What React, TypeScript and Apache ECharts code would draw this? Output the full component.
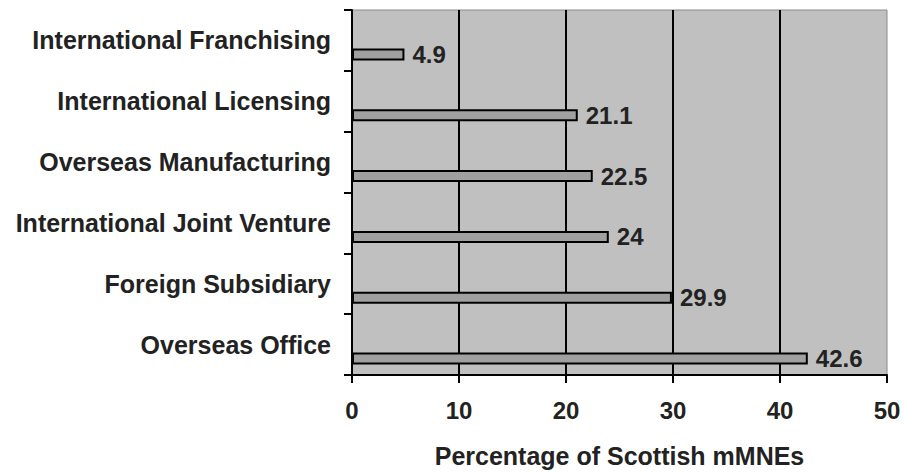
import React, { useEffect, useRef } from "react";
import * as echarts from "echarts";

const categories = [
  "Overseas Office",
  "Foreign Subsidiary",
  "International Joint Venture",
  "Overseas Manufacturing",
  "International Licensing",
  "International Franchising",
];
const values = [42.6, 29.9, 24, 22.5, 21.1, 4.9];
const spacer = categories.map(() => "-");
const xTicks = { min: 0, max: 50, interval: 10 };
const axisTitle = "Percentage of Scottish mMNEs";

const FONT = "'Liberation Sans', Arial, Helvetica, sans-serif";

export default function App() {
  const ref = useRef<HTMLDivElement>(null);
  useEffect(() => {
    if (!ref.current) return;
    const chart = echarts.init(ref.current, undefined, { renderer: "svg" });
    chart.setOption({
      animation: false,
      backgroundColor: "#ffffff",
      textStyle: { fontFamily: FONT },
      grid: {
        left: 352,
        right: 18,
        top: 10,
        bottom: 95,
        show: true,
        backgroundColor: "#c0c0c0",
        borderColor: "#8a8a8a",
        borderWidth: 1,
      },
      xAxis: {
        type: "value",
        min: xTicks.min,
        max: xTicks.max,
        interval: xTicks.interval,
        name: axisTitle,
        nameLocation: "middle",
        nameGap: 68,
        nameTextStyle: { fontSize: 25, fontWeight: "bold", color: "#222", fontFamily: FONT },
        axisLine: { show: true, lineStyle: { color: "#000", width: 2 } },
        axisTick: { show: true, length: 8, lineStyle: { color: "#000", width: 2 } },
        axisLabel: { fontSize: 24, fontWeight: "bold", color: "#222", margin: 23, fontFamily: FONT },
        splitLine: { show: true, showMinLine: false, showMaxLine: false, lineStyle: { color: "#000", width: 2 } },
      },
      yAxis: {
        type: "category",
        data: categories,
        axisLine: { show: true, lineStyle: { color: "#000", width: 2 } },
        axisTick: { show: true, length: 8, lineStyle: { color: "#000", width: 2 } },
        axisLabel: {
          fontSize: 25,
          fontWeight: "bold",
          color: "#222",
          margin: 21,
          padding: [0, 0, 5, 0],
          fontFamily: FONT,
        },
        splitLine: { show: false },
      },
      series: [
        {
          type: "bar",
          data: spacer,
          barWidth: 12,
          barGap: "133%",
          silent: true,
        },
        {
          type: "bar",
          data: values,
          barWidth: 12,
          itemStyle: { color: "#a0a0a0", borderColor: "#000", borderWidth: 2 },
          label: {
            show: true,
            position: "right",
            distance: 8,
            fontSize: 24,
            fontWeight: "bold",
            color: "#222",
            fontFamily: FONT,
          },
        },
      ],
    });
    return () => chart.dispose();
  }, []);
  return (
    <div
      ref={ref}
      style={{ position: "fixed", left: 0, top: 0, width: 905, height: 473 }}
    />
  );
}
